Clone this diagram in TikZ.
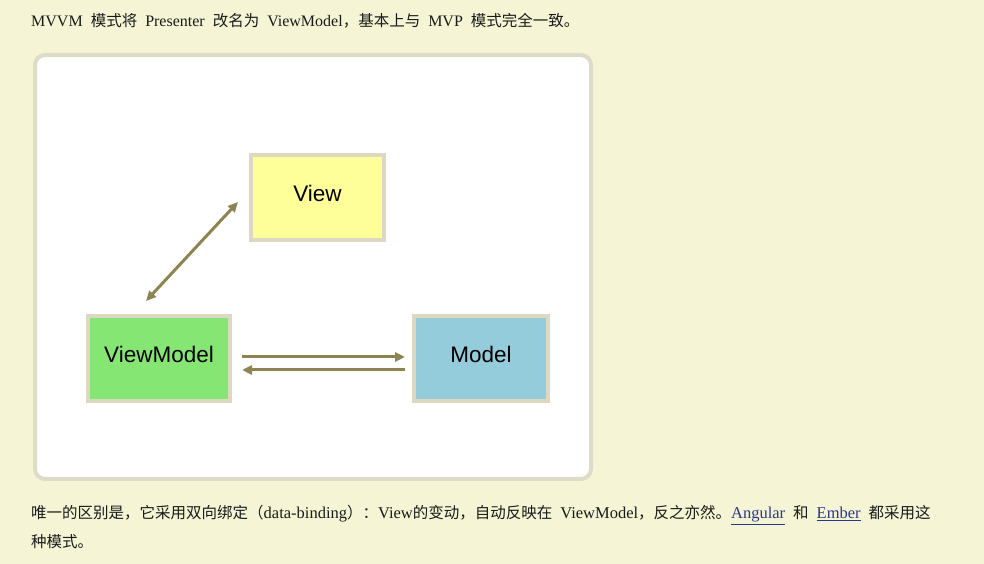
\documentclass[tikz,border=0pt]{standalone}
\usepackage{fontspec}
\usepackage{xcolor}
\usepackage{tikz}
\usetikzlibrary{arrows.meta, positioning}
\setmainfont{Liberation Serif}
\newfontfamily\cjk{Noto Sans CJK SC}
\newfontfamily\boxfont{Liberation Sans}
\definecolor{pagebg}{RGB}{245,245,213}
\definecolor{panelborder}{RGB}{222,220,200}
\definecolor{boxborder}{RGB}{221,216,194}
\definecolor{viewfill}{RGB}{255,255,153}
\definecolor{vmfill}{RGB}{134,230,115}
\definecolor{modelfill}{RGB}{148,204,219}
\definecolor{arrowcol}{RGB}{140,133,82}
\definecolor{linkcol}{RGB}{40,56,140}
\definecolor{textcol}{RGB}{26,26,26}
\newcommand{\zh}[1]{{\cjk\fontsize{15.5}{18}\selectfont #1}}
\newcommand{\gap}{\hspace{8pt}}
\newcommand{\lnk}[1]{\textcolor{linkcol}{\underline{#1}}}

\tikzset{
    part/.style={draw=boxborder, line width=4pt, minimum width=133pt, minimum height=85pt,
        inner sep=0pt, text depth=9pt, font=\boxfont\fontsize{22.5}{25}\selectfont},
    flow/.style={draw=arrowcol, line width=3pt, -{Triangle[length=10pt,width=9pt]}},
    para/.style={anchor=base west, inner sep=0pt, text=textcol}
}

\begin{document}
\begin{tikzpicture}[x=1pt, y=1pt]
    \fill[pagebg] (0,0) rectangle (984,564);
    \useasboundingbox (0,0) rectangle (984,564);

    % panel
    \draw[panelborder, fill=white, line width=4pt, rounded corners=10pt] (35,85) rectangle (591,509);

    % parts
    \node[part, fill=viewfill] (view) at (317.5,366.5) {View};
    \node[part, fill=vmfill, minimum width=142pt] (vm) at (159,205.5) {ViewModel};
    \node[part, fill=modelfill, minimum width=134pt] (model) at (481,205.5) {Model};

    \coordinate (vmtop) at ([xshift=-13pt, yshift=13pt]vm.north);
    \coordinate (viewleft) at ([xshift=-11pt, yshift=-4.5pt]view.west);
    \coordinate (vmout) at ([xshift=10pt, yshift=1.5pt]vm.east);
    \coordinate (modelin) at ([xshift=-7pt, yshift=1.5pt]model.west);
    \coordinate (modelout) at ([xshift=-7pt, yshift=-11.5pt]model.west);
    \coordinate (vmin) at ([xshift=10pt, yshift=-11.5pt]vm.east);

    \draw[flow, {Triangle[length=10pt,width=9pt]}-{Triangle[length=10pt,width=9pt]}] (vmtop) -- (viewleft);
    \draw[flow] (vmout) -- (modelin);
    \draw[flow] (modelout) -- (vmin);

    % text
    \node[para, font=\fontsize{16}{18}\selectfont] (top) at (31,537)
        {MVVM\gap\zh{模式将}\gap Presenter\gap\zh{改名为}\gap ViewModel\zh{，基本上与}\gap MVP\gap\zh{模式完全一致。}};
    \node[para, font=\fontsize{16.5}{18}\selectfont] (bottom1) at (31,45)
        {\zh{唯一的区别是，它采用双向绑定（}data-binding\zh{）：}View\zh{的变动，自动反映在}\gap ViewModel\zh{，反之亦然。}\lnk{Angular}\gap\zh{和}\gap\lnk{Ember}\gap\zh{都采用这}};
    \node[para] (bottom2) at (31,16) {\zh{种模式。}};
\end{tikzpicture}
\end{document}
